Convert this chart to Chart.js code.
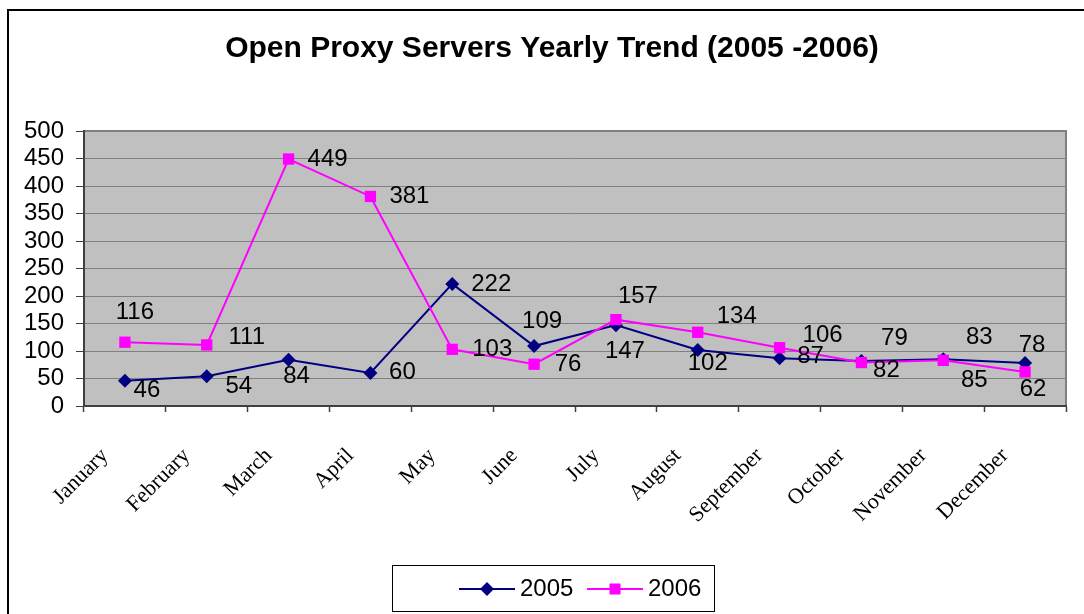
<!DOCTYPE html>
<html>
<head>
<meta charset="utf-8">
<title>Open Proxy Servers Yearly Trend</title>
<script src="https://cdn.jsdelivr.net/npm/chart.js@4.4.1/dist/chart.umd.min.js"></script>
<style>
  html, body { margin: 0; padding: 0; background: #fff; }
  canvas { display: block; }
</style>
</head>
<body>
<canvas id="chart" width="1084" height="614"></canvas>
<script>
const months = ["January", "February", "March", "April", "May", "June",
  "July", "August", "September", "October", "November", "December"];
const servers2005 = [46, 54, 84, 60, 222, 109, 147, 102, 87, 82, 85, 78];
const servers2006 = [116, 111, 449, 381, 103, 76, 157, 134, 106, 79, 83, 62];
const yMax = 500;
const yStep = 50;

// value label placement, [dx, dy] from the point
const labelShift2005 = [[22, 10], [32, 10], [8, 17], [32, -1], [39, 0], [8, -25],
  [9, 26], [10, 13], [31, -2], [25, 9], [31, 21], [7, -18]];
const labelShift2006 = [[10, -30], [40, -8], [39, 0], [39, 0], [40, 0], [34, 0],
  [22, -23], [39, -16], [43, -12], [33, -24], [36, -23], [8, 17]];

const NAVY = "#000080";
const PINK = "#FF00FF";
const SANS = "'Liberation Sans', Arial, sans-serif";

const framePlugin = {
  id: "frame",
  beforeDraw(chart) {
    const ctx = chart.ctx;
    const a = chart.chartArea;
    ctx.save();
    ctx.fillStyle = "#fff";
    ctx.fillRect(0, 0, chart.width, chart.height);
    // outer border
    ctx.strokeStyle = "#000";
    ctx.lineWidth = 2;
    ctx.strokeRect(8, 10, 2000, 2000);
    // plot background
    ctx.fillStyle = "#C0C0C0";
    ctx.fillRect(a.left, a.top, a.right - a.left, a.bottom - a.top);
    ctx.strokeStyle = "#808080";
    ctx.lineWidth = 2;
    ctx.beginPath();
    ctx.moveTo(a.left, a.top);
    ctx.lineTo(a.right, a.top);
    ctx.lineTo(a.right, a.bottom);
    ctx.stroke();
    // title
    ctx.fillStyle = "#000";
    ctx.font = "bold 30px " + SANS;
    ctx.textAlign = "center";
    ctx.textBaseline = "middle";
    ctx.fillText("Open Proxy Servers Yearly Trend (2005 -2006)", 552, 49);
    ctx.restore();
  },
  afterDatasetsDraw(chart) {
    const ctx = chart.ctx;
    ctx.save();
    ctx.fillStyle = "#000";
    ctx.font = "24px " + SANS;
    ctx.textAlign = "center";
    ctx.textBaseline = "middle";
    chart.data.datasets.forEach((ds, i) => {
      const meta = chart.getDatasetMeta(i);
      meta.data.forEach((pt, j) => {
        const s = ds.labelShift[j];
        ctx.fillText(String(ds.data[j]), pt.x + s[0], pt.y + s[1]);
      });
    });
    ctx.restore();
  },
  afterDraw(chart) {
    // legend box
    const ctx = chart.ctx;
    ctx.save();
    ctx.strokeStyle = "#000";
    ctx.lineWidth = 1;
    ctx.strokeRect(392.5, 565.5, 322, 46);
    const y = 589;
    ctx.lineWidth = 2;
    ctx.strokeStyle = NAVY;
    ctx.beginPath();
    ctx.moveTo(459, y);
    ctx.lineTo(515, y);
    ctx.stroke();
    ctx.fillStyle = NAVY;
    ctx.beginPath();
    ctx.moveTo(487, y - 7);
    ctx.lineTo(494, y);
    ctx.lineTo(487, y + 7);
    ctx.lineTo(480, y);
    ctx.closePath();
    ctx.fill();
    ctx.strokeStyle = PINK;
    ctx.beginPath();
    ctx.moveTo(587, y);
    ctx.lineTo(643, y);
    ctx.stroke();
    ctx.fillStyle = PINK;
    ctx.fillRect(609.5, y - 5.5, 11, 11);
    ctx.fillStyle = "#000";
    ctx.font = "24px " + SANS;
    ctx.textAlign = "left";
    ctx.textBaseline = "middle";
    ctx.fillText("2005", 520, y);
    ctx.fillText("2006", 648, y);
    ctx.restore();
  }
};

const ctx = document.getElementById("chart").getContext("2d");
const chart = new Chart(ctx, {
  type: "line",
  data: {
    labels: months,
    datasets: [
      {
        label: "2005",
        data: servers2005,
        labelShift: labelShift2005,
        borderColor: NAVY,
        backgroundColor: NAVY,
        borderWidth: 2,
        pointStyle: "rectRot",
        pointRadius: 7,
        pointBorderWidth: 0,
        tension: 0,
        order: 1
      },
      {
        label: "2006",
        data: servers2006,
        labelShift: labelShift2006,
        borderColor: PINK,
        backgroundColor: PINK,
        borderWidth: 2,
        pointStyle: "rect",
        pointRadius: 8,
        pointBorderWidth: 0,
        tension: 0,
        order: 0
      }
    ]
  },
  options: {
    responsive: false,
    animation: false,
    layout: { padding: { top: 131, right: 18, left: 0, bottom: 0 } },
    plugins: {
      legend: { display: false },
      title: { display: false },
      tooltip: { enabled: false }
    },
    scales: {
      x: {
        offset: true,
        afterFit(scale) { scale.height = 208; },
        grid: {
          offset: true,
          drawOnChartArea: false,
          drawTicks: true,
          tickLength: 6,
          tickColor: "#404040",
          tickWidth: 1.5
        },
        border: { display: true, color: "#404040", width: 2 },
        ticks: {
          autoSkip: false,
          minRotation: 45,
          maxRotation: 45,
          padding: 31,
          labelOffset: -20,
          color: "#000",
          font: { family: "'Liberation Serif', 'Times New Roman', serif", size: 22 }
        }
      },
      y: {
        min: 0,
        max: yMax,
        afterFit(scale) { scale.width = 84; },
        grid: {
          color: "#808080",
          lineWidth: 1,
          drawTicks: true,
          tickLength: 8,
          tickColor: "#404040"
        },
        border: { display: true, color: "#404040", width: 2 },
        ticks: {
          stepSize: yStep,
          autoSkip: false,
          maxTicksLimit: 20,
          padding: 12,
          color: "#000",
          font: { family: SANS, size: 24, lineHeight: 1 }
        }
      }
    }
  },
  plugins: [framePlugin]
});
</script>
</body>
</html>
